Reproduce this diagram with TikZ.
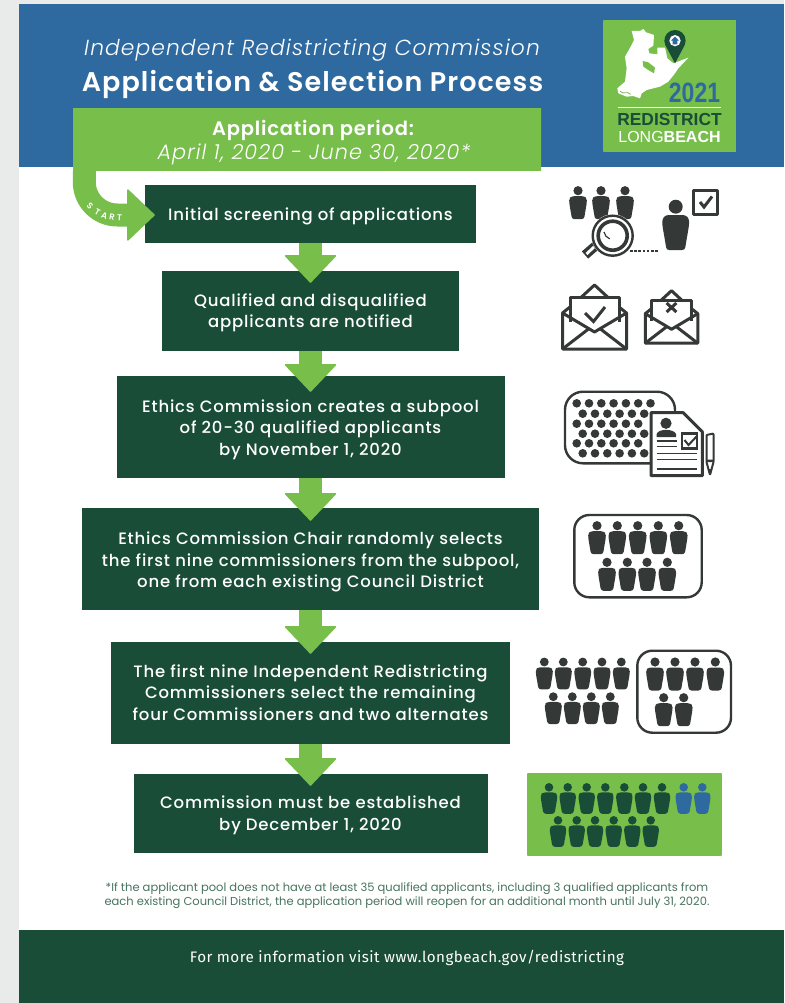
\documentclass[tikz,border=0pt]{standalone}
\usepackage{fontspec}
\usetikzlibrary{arrows.meta,calc}
\setmainfont{Poppins}
\newfontfamily\pbox{Poppins}[LetterSpace=5,UprightFont={* Medium}]
\newfontfamily\phead{Poppins}[LetterSpace=4,UprightFont={* SemiBold}]
\newfontfamily\pital{Poppins}[LetterSpace=5,UprightFont={* Light Italic}]
\newfontfamily\pnote{Poppins}
\newfontfamily\ffoot{Fira Sans}[LetterSpace=3]
\newfontfamily\llog{Liberation Sans}
\definecolor{gbg}{HTML}{E9EBEB}
\definecolor{hblue}{HTML}{2E6A9F}
\definecolor{dgreen}{HTML}{194D38}
\definecolor{lgreen}{HTML}{78BE4B}
\definecolor{mgreen}{HTML}{8FC94A}
\definecolor{icon}{HTML}{343837}
\definecolor{notec}{HTML}{47745F}
\tikzset{
 stepbox/.style={fill=dgreen,inner sep=0pt},
 steptext/.style={text=white,align=center,inner sep=0pt,font=\pbox\fontsize{16.5}{21.5}\selectfont},
 blockarrow/.style={draw=lgreen,line width=23pt,-{Triangle[width=53pt,length=28pt,round,line width=1.5pt,fill=lgreen]}},
 sheen/.style={left color=lgreen,middle color=mgreen,right color=lgreen},
 outl/.style={draw=icon,line width=3pt,line join=round},
 frameb/.style={draw=icon,line width=2.4pt,rounded corners=15pt},
 startl/.style={text=white,font=\phead\fontsize{8.5}{9}\selectfont,inner sep=0pt},
}
\newcommand{\prsn}[4]{\begin{scope}[shift={(#1,#2)},scale=#3]
 \fill[#4] (0,0) circle (4.6);
 \fill[#4,rounded corners=2.5pt] (-6.5,5.5)--(6.5,5.5)--(8.8,8)--(8.8,12)--(6,28.5)--(-6,28.5)--(-8.8,12)--(-8.8,8)--cycle;
\end{scope}}
\newcommand{\envl}[4]{\begin{scope}[shift={(#1,#2)},scale=#3]
 \draw[outl] (-13,12)--(0,0)--(13,12);
 \draw[outl] (-24.5,37)--(-24.5,12)--(24.5,12)--(24.5,37);
 \draw[outl] (-24.5,22)--(-32,28)--(-32,64)--(32,64)--(32,28)--(24.5,22);
 \draw[outl] (-32,28)--(0,47)--(32,28);
 \draw[outl] (-32,64)--(-6,44);
 \draw[outl] (32,64)--(6,44);
 #4
\end{scope}}
\begin{document}
\begin{tikzpicture}[x=1pt,y=-1pt]
\useasboundingbox (0,0) rectangle (784,1003);
\fill[gbg] (0,0) rectangle (784,1003);
\fill[white] (19,4) rectangle (784,1003);
\fill[hblue] (19,4) rectangle (784,167);
\fill[dgreen] (19,930) rectangle (784,1003);
% title
\node[text=white,inner sep=0pt,font=\pital\fontsize{21.8}{22}\selectfont] (title1) at (312,50) {Independent Redistricting Commission};
\node[text=white,inner sep=0pt,font=\phead\fontsize{27}{27}\selectfont] (title2) at (312.5,84) {Application \& Selection Process};
% banner
\node[sheen,minimum width=468pt,minimum height=62pt,inner sep=0pt] (banner) at (307,140) {};
\node[text=white,inner sep=0pt,font=\phead\fontsize{19.5}{20}\selectfont] (per1) at (313,130.5) {Application period:};
\node[text=white,inner sep=0pt,font=\pital\fontsize{20.8}{21}\selectfont] (per2) at (314,154) {April 1, 2020 - June 30, 2020*};
% boxes
\node[stepbox,minimum width=331pt,minimum height=58pt] (b1) at (310.5,214) {};
\node[stepbox,minimum width=297pt,minimum height=80pt] (b2) at (310.5,311) {};
\node[stepbox,minimum width=388pt,minimum height=102pt] (b3) at (310.5,427) {};
\node[stepbox,minimum width=457pt,minimum height=102pt] (b4) at (310.5,559) {};
\node[stepbox,minimum width=399pt,minimum height=102pt] (b5) at (310.5,693) {};
\node[stepbox,minimum width=354pt,minimum height=79pt] (b6) at (310.5,813.5) {};
% box texts
\node[steptext] (t1) at (310.5,216) {Initial screening of applications};
\node[steptext] (t2) at (310.5,313) {Qualified and disqualified\\applicants are notified};
\node[steptext] (t3) at (310.5,429.5) {Ethics Commission creates a subpool\\of 20-30 qualified applicants\\by November 1, 2020};
\node[steptext] (t4) at (310.5,562) {Ethics Commission Chair randomly selects\\the first nine commissioners from the subpool,\\one from each existing Council District};
\node[steptext] (t5) at (310.5,692.5) {The first nine Independent Redistricting\\Commissioners select the remaining\\four Commissioners and two alternates};
\node[steptext] (t6) at (310.5,815.5) {Commission must be established\\by December 1, 2020};
% connectors
\draw[blockarrow,rounded corners=33pt] ([xshift=11.5pt]banner.south west) |- ([xshift=10pt,yshift=-1pt]b1.west);
\draw[blockarrow] (b1.south) -- ([yshift=-12pt]b2.north);
\draw[blockarrow] (b2.south) -- ([yshift=-16pt]b3.north);
\draw[blockarrow] (b3.south) -- ([yshift=-13pt]b4.north);
\draw[blockarrow] (b4.south) -- ([yshift=-12pt]b5.north);
\draw[blockarrow] (b5.south) -- ([yshift=-12pt]b6.north);
% START
\node[startl,rotate=-42] (s1) at (90,206.5) {S};
\node[startl,rotate=-30] (s2) at (97.5,212) {T};
\node[startl,rotate=-20] (s3) at (104.5,215.5) {A};
\node[startl,rotate=-10] (s4) at (112,217) {R};
\node[startl,rotate=-4] (s5) at (119.5,217.5) {T};
% footnote and footer
\node[text=notec,align=center,inner sep=0pt,font=\pnote\fontsize{11.5}{14}\selectfont] (note) at (407,896) {*If the applicant pool does not have at least 35 qualified applicants, including 3 qualified applicants from\\each existing Council District, the application period will reopen for an additional month until July 31, 2020.};
\node[text=white,inner sep=0pt,font=\ffoot\fontsize{15.2}{16}\selectfont] (foot) at (407,958) {For more information visit www.longbeach.gov/redistricting};
% logo
\node[sheen,minimum width=132.7pt,minimum height=131pt,inner sep=0pt] (logo) at (669.6,86.2) {};
\begin{scope}[shift={(610,25)},scale=1/3]
 \fill[white] (65,18)--(90,18)--(100,12)--(108,22)--(132,30)--(130,62)--(115,72)--(118,85)--(142,88)--(142,68)--(165,68)--(172,100)--(190,115)--(235,98)--(222,112)--(205,130)--(195,145)--(175,170)--(150,185)--(110,195)--(95,205)--(90,220)--(70,213)--(50,215)--(25,205)--(22,190)--(45,170)--(50,130)--(45,95)--(62,65)--(72,45)--cycle;
 \fill[lgreen] (98,108)--(115,112)--(135,128)--(132,145)--(115,135)--(100,125)--cycle;
 \draw[lgreen,line width=.8pt] (30,198) .. controls (40,212) and (50,195) .. (62,208);
 \fill[dgreen] (195,115)--(166,60.5) arc[start angle=155,end angle=385,radius=32]--cycle;
 \fill[white] (195,47) circle (17);
 \fill[hblue] (183,47)--(195,35)--(207,47)--(202,47)--(202,58)--(188,58)--(188,47)--cycle;
\end{scope}
\draw[white!90!lgreen,line width=1.5pt] (618.3,107.3)--(720.7,107.3);
\node[text=hblue,inner sep=0pt,xscale=.82,font=\llog\bfseries\fontsize{28}{28}\selectfont] (y2021) at (694.5,92.5) {2021};
\node[text=dgreen,inner sep=0pt,font=\llog\bfseries\fontsize{17.4}{18}\selectfont] (lg1) at (669.5,119.5) {REDISTRICT};
\node[text=white,inner sep=0pt,font=\llog\fontsize{16}{18}\selectfont] (lg2) at (669.5,136.7) {LONG\textbf{BEACH}};
% icon 1
\prsn{578}{190.7}{1}{icon}\prsn{601}{190.7}{1}{icon}\prsn{625}{190.7}{1}{icon}
\prsn{675.7}{206.7}{1.52}{icon}
\draw[icon,line width=2.6pt,dash pattern=on 2.6pt off 1.6pt] (630,251)--(659,251);
\draw[icon,line width=9.5pt] (600,242)--(585,255);
\draw[white,line width=2.8pt] (594,247)--(586.5,254);
\fill[white] (612.7,235.7) circle (21.5);
\draw[icon,line width=2.4pt] (612.7,235.7) circle (20);
\draw[icon,line width=3.6pt] (612.7,235.7) circle (14.5);
\draw[icon,line width=1.2pt] (604,232) arc[start angle=170,end angle=110,radius=9];
\draw[outl,fill=white] (693.5,190.5) rectangle (717.5,214.5);
\draw[icon,line width=3pt] (700,202)--(704,207)--(712,196.5);
% icon 2
\envl{594.5}{285}{1}{\draw[icon,line width=3pt] (-9.5,28)--(-1,36.5)--(10.5,22);}
\envl{671.5}{290.7}{.82}{\draw[icon,line width=3pt] (-6,15)--(6,26) (6,15)--(-6,26);}
% icon 3
\draw[frameb,rounded corners=18pt] (565,391.7) rectangle (675,463.3);
\foreach \yy/\xx/\nn in {403.3/576.7/6,413.7/582.7/5,423.7/576.7/5,433.7/582.7/5,443.3/576.7/5,453.3/582.7/5}{
 \foreach \ii in {0,...,\nn}{\fill[icon] ({\xx+12.3*\ii},\yy) circle (4.3);}}
\draw[outl,fill=white] (651,412.7)--(683.3,412.7)--(702.3,431.7)--(702.3,475.7)--(651,475.7)--cycle;
\fill[icon] (666,423.3) circle (5.6);
\fill[icon] (656.7,437)--(656.7,434) .. controls (658,428.5) and (674,428.5) .. (676,434)--(676,437)--cycle;
\draw[icon,line width=1.6pt] (656.7,441)--(676.7,441) (656.7,446.5)--(676.7,446.5) (656.7,453.3)--(696.7,453.3) (656.7,459.3)--(696.7,459.3);
\draw[icon,line width=2.2pt] (656.7,469)--(696.7,469);
\draw[draw=icon,line width=2.4pt,fill=white] (682,433.5) rectangle (696.7,448.3);
\draw[icon,line width=2pt] (684.5,440)--(688.5,445)--(697,436);
\draw[icon,line width=2pt,line join=round,rounded corners=.8pt] (706.5,435)--(713.5,433.5)--(713.5,462)--(710,475)--(706.5,462)--cycle;
\fill[icon] (706.5,459.5) rectangle (713.5,462) (708.2,469)--(711.8,469)--(710,475)--cycle;
% icon 4
\draw[frameb] (574.3,515) rectangle (701.7,597.3);
\foreach \xx in {597,617.3,637.7,658.3,678.7}{\prsn{\xx}{525.7}{1}{icon}}
\foreach \xx in {607,627.3,647,667.3}{\prsn{\xx}{562.3}{1}{icon}}
% icon 5
\foreach \xx in {544.3,563.3,582.7,602,621.3}{\prsn{\xx}{662}{.96}{icon}}
\foreach \xx in {553.3,572.3,591.3,610.3}{\prsn{\xx}{696.7}{.96}{icon}}
\draw[frameb] (637.3,650.7) rectangle (731,732.7);
\foreach \xx in {655,675,695,715.3}{\prsn{\xx}{662}{1}{icon}}
\foreach \xx in {663.7,683.7}{\prsn{\xx}{697.7}{1}{icon}}
% icon 6
\node[sheen,minimum width=194.4pt,minimum height=81.7pt,inner sep=0pt] (crect) at (624.5,814.2) {};
\foreach \xx in {549,567.7,586.7,605.3,624.3,643,662}{\prsn{\xx}{787.3}{.93}{dgreen}}
\foreach \xx in {683.7,702.3}{\prsn{\xx}{787.3}{.93}{hblue}}
\foreach \xx in {558,576.7,595,613.7,632.3,650.7}{\prsn{\xx}{820.3}{.93}{dgreen}}
\end{tikzpicture}
\end{document}
